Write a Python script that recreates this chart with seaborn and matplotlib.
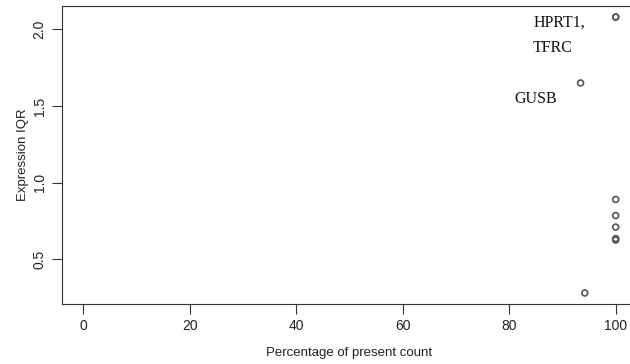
import numpy as np
import pandas as pd
import seaborn as sns
import matplotlib.pyplot as plt

### Data
pct_present = [100, 100, 93.4, 94.2, 100, 100, 100, 100, 100]
expr_iqr = [2.08, 2.08, 1.65, 0.28, 0.89, 0.785, 0.71, 0.635, 0.625]
gene_labels = ["HPRT1,\nTFRC", "GUSB"]
label_xy = [(84.5, 2.095), (81.0, 1.60)]

df = pd.DataFrame({'pct': pct_present, 'iqr': expr_iqr})

sns.set_style("white")
plt.rcParams['font.family'] = ['Liberation Sans', 'DejaVu Sans']

fig = plt.figure(figsize=(6.3, 3.64), dpi=100)
ax = fig.add_axes([62/630, 60/364, 575/630, 298/364])

sns.scatterplot(data=df, x='pct', y='iqr', ax=ax, marker='o', s=18,
                facecolors='none', edgecolor='#555555', linewidth=1.2)

for txt, (x, y) in zip(gene_labels, label_xy):
    ax.text(x, y, txt, family=['Liberation Serif'], fontsize=11.5,
            va='top', ha='left', color='#111111', linespacing=1.75)

ax.set_xlim(-4, 104)
ax.set_ylim(0.208, 2.152)
ax.set_xticks([0, 20, 40, 60, 80, 100])
ax.set_yticks([0.5, 1.0, 1.5, 2.0])
ax.set_yticklabels(['0.5', '1.0', '1.5', '2.0'], rotation=90, va='center')
ax.tick_params(axis='both', direction='out', length=7, width=0.8,
               labelsize=10, color='#333333', labelcolor='#222222',
               bottom=True, left=True, pad=4)
for sp in ax.spines.values():
    sp.set_color('#333333')
    sp.set_linewidth(0.8)
ax.spines['right'].set_visible(False)
ax.set_xlabel('Percentage of present count', fontsize=9.5, color='#222222', labelpad=10)
ax.set_ylabel('Expression IQR', fontsize=9.5, color='#222222', labelpad=3)

fig.savefig('out.png', dpi=100)
